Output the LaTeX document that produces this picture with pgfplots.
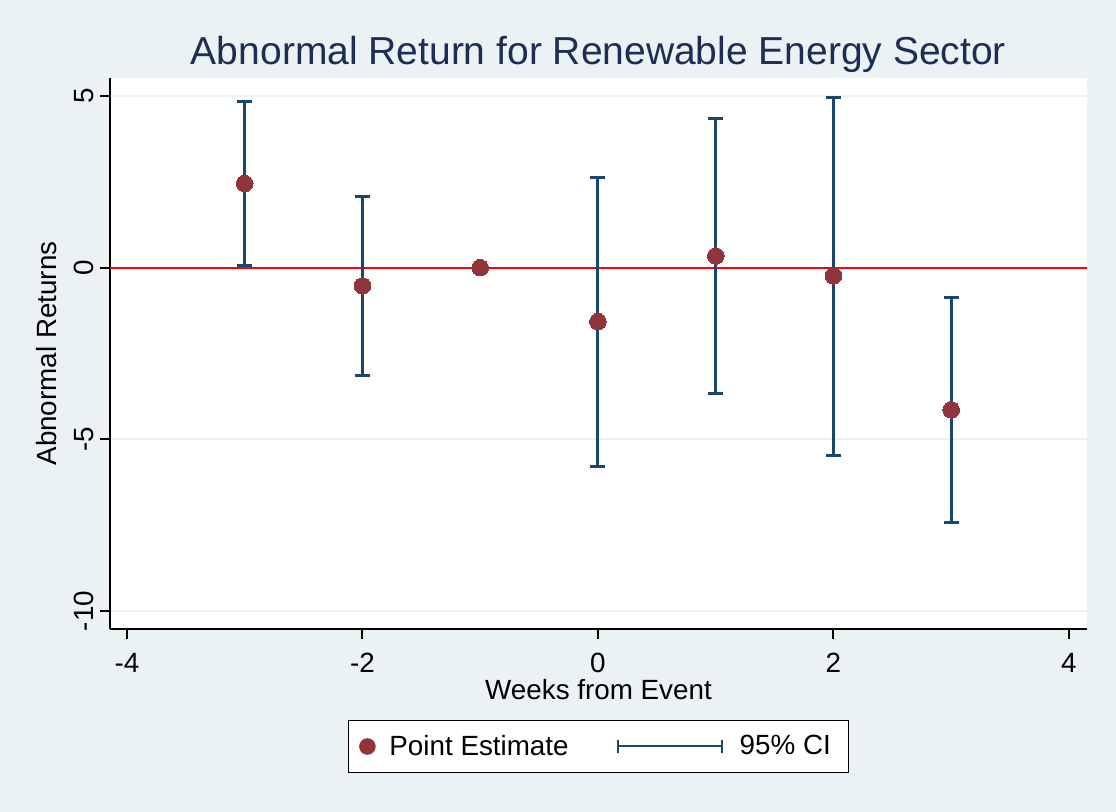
\documentclass[border=0pt]{standalone}
\usepackage{fontspec}
\setmainfont{Liberation Sans}
\usepackage{pgfplots}
\usepackage{pgfplotstable}
\pgfplotsset{compat=1.18}
\definecolor{bgc}{RGB}{234,242,243}
\definecolor{gridc}{RGB}{234,242,243}
\definecolor{cranb}{RGB}{144,53,59}
\definecolor{navyc}{RGB}{26,71,111}
\definecolor{titc}{RGB}{30,45,83}
\pgfplotstableread{
x y lo hi
-3 2.45 0.06 4.85
-2 -0.53 -3.15 2.08
0 -1.57 -5.78 2.64
1 0.34 -3.67 4.33
2 -0.24 -5.46 4.96
3 -4.14 -7.42 -0.86
}\citab
\pgfplotstableread{
x y
-3 2.45
-2 -0.53
-1 0.00
0 -1.57
1 0.34
2 -0.24
3 -4.14
}\pttab
\begin{document}
\begin{tikzpicture}
\path[use as bounding box] (0,0) rectangle (558pt,406pt);
\fill[bgc] (0,0) rectangle (558pt,406pt);
\begin{axis}[
  at={(55pt,91.5pt)}, anchor=south west,
  scale only axis, width=488.5pt, height=275.5pt,
  xmin=-4.144, xmax=4.153, ymin=-10.524, ymax=5.524,
  axis lines*=left,
  axis line style={-, black, line width=1pt},
  axis background/.style={fill=white},
  xtick={-4,-2,0,2,4}, xticklabels={-4,-2,0,2,4},
  ytick={-10,-5,0,5}, yticklabels={-10,-5,0,5},
  tick align=outside, major tick length=5pt,
  tick style={black, line width=1pt},
  ymajorgrids, grid style={gridc, line width=1pt},
  tick label style={font=\fontsize{13.9}{16}\selectfont, inner sep=0pt},
  xticklabel style={anchor=base, yshift=-16.85pt},
  yticklabel style={xshift=-3pt, rotate=90, anchor=south},
  xlabel={Weeks from Event},
  xlabel style={at={(axis description cs:0.5,0)}, anchor=base, yshift=-35.5pt, inner sep=0pt, font=\fontsize{13.9}{16}\selectfont},
  ylabel={Abnormal Returns},
  ylabel style={at={(axis description cs:-0.05455,0.5)}, anchor=south, inner sep=0pt, font=\fontsize{13.9}{16}\selectfont},
  title={Abnormal Return for Renewable Energy Sector},
  title style={at={(axis description cs:0.5,1)}, anchor=base, yshift=0.65pt, inner sep=0pt, text=titc, font=\fontsize{19.5}{22}\selectfont},
  legend style={at={(axis description cs:0.5,-0.21325)}, anchor=center, draw=black, line width=0.5pt, fill=white,
    inner xsep=5.5pt, inner ysep=7pt, font=\fontsize{13.9}{16}\selectfont,
    nodes={inner sep=0pt},
    /tikz/every odd column/.append style={column sep=0pt},
    /tikz/every even column/.append style={column sep=24pt}},
  legend columns=2,
]
\addplot[red, line width=1.1pt, forget plot] coordinates {(-4.144,0) (4.153,0)};
\addplot[draw=none, mark=none, forget plot,
  error bars/.cd, y dir=both, y explicit,
  error bar style={navyc, line width=1.5pt},
  error mark options={navyc, line width=1.5pt, mark size=3.75pt, rotate=90}]
  table[x=x, y=y, y error plus expr=\thisrow{hi}-\thisrow{y}, y error minus expr=\thisrow{y}-\thisrow{lo}] {\citab};
\addplot[only marks, mark=*, mark size=4.15pt, mark options={fill=cranb, draw=cranb, line width=0pt}, forget plot]
  table[x=x, y=y] {\pttab};
\addlegendimage{legend image code/.code={
  \fill[cranb, draw=none] (4.15pt,0pt) circle[radius=4.15pt];
  \path[draw=none, fill=none] (0pt,0pt) -- (15.15pt,0pt);}}
\addlegendentry{Point Estimate}
\addlegendimage{legend image code/.code={
  \draw[navyc, line width=1pt] (0pt,0pt) -- (52pt,0pt);
  \draw[navyc, line width=1pt] (0pt,-3.2pt) -- (0pt,3.2pt);
  \draw[navyc, line width=1pt] (52pt,-3.2pt) -- (52pt,3.2pt);
  \path[draw=none, fill=none] (0pt,0pt) -- (61pt,0pt);}}
\addlegendentry{95\% CI\hspace*{3.5pt}}
\end{axis}
\end{tikzpicture}
\end{document}
